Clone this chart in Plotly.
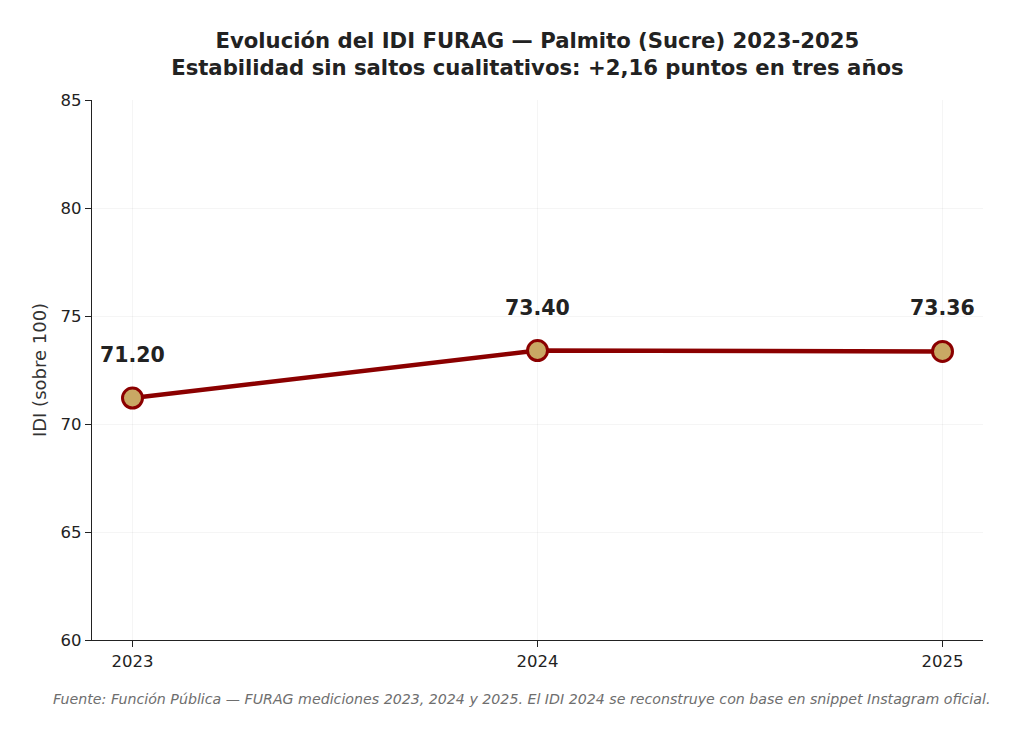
import plotly.graph_objects as go

years = [2023, 2024, 2025]
idi = [71.20, 73.40, 73.36]
labels = ["71.20", "73.40", "73.36"]
y_ticks = [60, 65, 70, 75, 80, 85]

title = ("<b>Evolución del IDI FURAG — Palmito (Sucre) 2023-2025</b><br>"
         "<b>Estabilidad sin saltos cualitativos: +2,16 puntos en tres años</b>")
footer = ("Fuente: Función Pública — FURAG mediciones 2023, 2024 y 2025. "
          "El IDI 2024 se reconstruye con base en snippet Instagram oficial.")

fig = go.Figure()
fig.add_trace(go.Scatter(
    x=years, y=idi, mode="lines+markers",
    line=dict(color="#8B0000", width=4.5),
    marker=dict(size=20, color="#C9A864", line=dict(color="#8B0000", width=3)),
    showlegend=False, hoverinfo="x+y",
))

for x, y, t in zip(years, idi, labels):
    fig.add_annotation(x=x, y=y, text=f"<b>{t}</b>", showarrow=False,
                       yshift=43, font=dict(size=20.5, color="#222222",
                                            family="DejaVu Sans"))

fig.add_annotation(xref="paper", yref="paper", x=0.482, y=-0.11,
                   xanchor="center", yanchor="middle", showarrow=False,
                   text=f"<i>{footer}</i>",
                   font=dict(size=14.2, color="#6e6e6e", family="DejaVu Sans"))

fig.update_layout(
    width=1024, height=738,
    paper_bgcolor="white", plot_bgcolor="white",
    font=dict(family="DejaVu Sans", color="#222222"),
    margin=dict(l=84, r=49, t=92, b=106),
    title=dict(text=title, x=0.517, xanchor="center", y=0.946, yanchor="middle",
               font=dict(size=21.2, color="#222222", family="DejaVu Sans")),
    xaxis=dict(range=[2022.9, 2025.1], tickvals=years,
               ticktext=[str(y) for y in years],
               showgrid=True, gridcolor="rgba(0,0,0,0.04)", gridwidth=1,
               zeroline=False, showline=True, linecolor="#222222", linewidth=1.2,
               ticks="outside", ticklen=6, tickcolor="#222222",
               tickfont=dict(size=16.5, color="#222222")),
    yaxis=dict(range=[60, 85], tickvals=y_ticks,
               showgrid=True, gridcolor="rgba(0,0,0,0.04)", gridwidth=1,
               zeroline=False, showline=True, linecolor="#222222", linewidth=1.2,
               ticks="outside", ticklen=6, tickcolor="#222222",
               tickfont=dict(size=16.5, color="#222222"),
               title=dict(text="IDI (sobre 100)", font=dict(size=18, color="#333333"),
                          standoff=9)),
)

fig.write_html("out.html")
